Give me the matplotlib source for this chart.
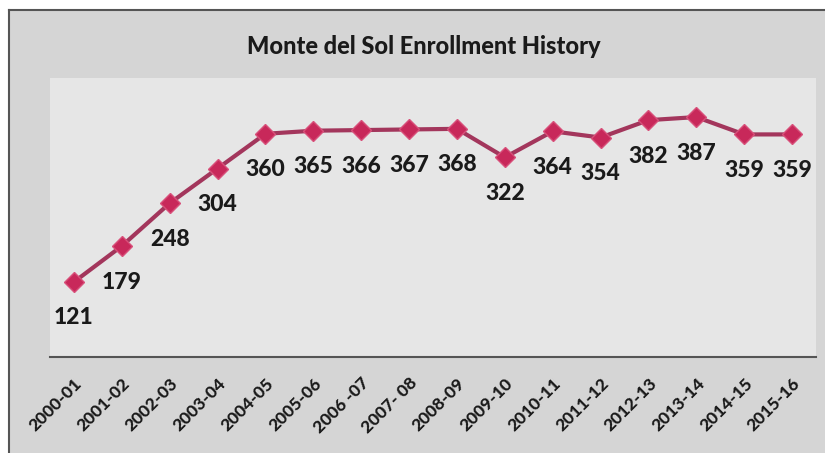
import matplotlib
matplotlib.use('Agg')
import matplotlib.pyplot as plt
import matplotlib.transforms as mtransforms
from matplotlib.patches import Rectangle

years = ['2000-01', '2001-02', '2002-03', '2003-04', '2004-05', '2005-06', '2006 -07', '2007- 08',
         '2008-09', '2009-10', '2010-11', '2011-12', '2012-13', '2013-14', '2014-15', '2015-16']
enrollment = [121, 179, 248, 304, 360, 365, 366, 367, 368, 322, 364, 354, 382, 387, 359, 359]

plt.rcParams['font.family'] = ['Lato', 'DejaVu Sans']

W, H = 825, 453
fig = plt.figure(figsize=(W / 100, H / 100), dpi=100)
fig.patch.set_facecolor('white')

# outer chart area (scanned gray box)
fig.add_artist(Rectangle((9 / W, 0), 1, 1 - 10 / H, transform=fig.transFigure,
                         facecolor='#d5d5d5', edgecolor='none', zorder=0))
fig.add_artist(plt.Line2D([9 / W, 9 / W], [0, 1 - 10 / H], transform=fig.transFigure,
                          color='#555555', lw=1.5))
fig.add_artist(plt.Line2D([9 / W, 1], [1 - 10 / H, 1 - 10 / H], transform=fig.transFigure,
                          color='#555555', lw=1.5))

left, right, top, bottom = 50, 816, 78, 357
ax = fig.add_axes([left / W, 1 - bottom / H, (right - left) / W, (bottom - top) / H])
ax.set_facecolor('#e6e6e6')

x = list(range(len(years)))
ax.plot(x, enrollment, color='#a3365c', lw=3, marker='D', markersize=10,
        markerfacecolor='#c8285a', markeredgecolor='#d8507a', markeredgewidth=1, zorder=3)

for i, v in zip(x, enrollment):
    ax.annotate(str(v), (i, v), xytext=(0, -36), textcoords='offset pixels',
                ha='center', va='center', fontsize=16.5, fontweight='black', color='#1a1a1a')

ax.set_xlim(-0.5, len(years) - 0.5)
ax.set_ylim(0, 450)
ax.set_yticks([])
ax.set_xticks(x)
ax.set_xticklabels(years, rotation=45, ha='right', va='top', rotation_mode='anchor',
                   fontsize=12.5, fontweight='black', color='#1a1a1a')
ax.tick_params(axis='x', length=0, pad=13)
offset = mtransforms.ScaledTranslation(0, 0, fig.dpi_scale_trans)
for lab in ax.get_xticklabels():
    lab.set_transform(lab.get_transform() + offset)

for s in ['top', 'left', 'right']:
    ax.spines[s].set_visible(False)
ax.spines['bottom'].set_color('#555555')
ax.spines['bottom'].set_linewidth(1.5)

fig.text(424 / W, 1 - 47 / H, 'Monte del Sol Enrollment History', ha='center', va='center',
         fontsize=17, fontweight='black', color='#1a1a1a')

fig.savefig('out.png', dpi=100)
